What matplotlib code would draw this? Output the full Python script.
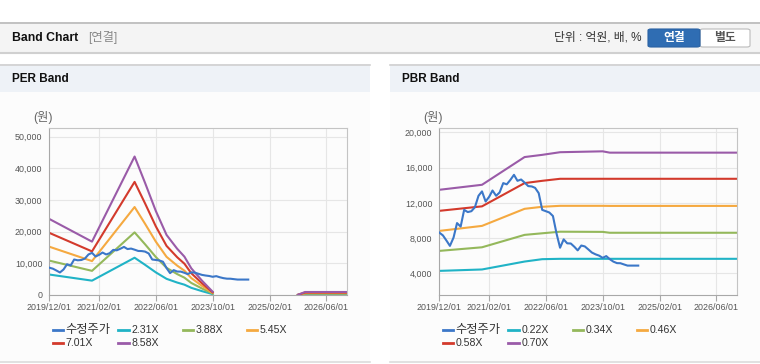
import numpy as np
import pandas as pd
import matplotlib
matplotlib.use("Agg")
import matplotlib.pyplot as plt
from matplotlib.patches import Rectangle, FancyBboxPatch
from matplotlib.lines import Line2D

plt.rcParams["font.family"] = ["Liberation Sans", "Noto Sans CJK KR"]

W, H = 760, 364

# 수정주가 (monthly)
price_dates = pd.date_range("2019-12-01", periods=57, freq="MS")
price = [8620, 8300, 7700, 7110, 8050, 9700, 9300, 11200, 10950, 11050,
         11500, 12800, 13300, 12150, 12700, 13400, 12800, 13180, 14240, 14100,
         14600, 15180, 14500, 14650, 14300, 13900, 13860, 13700, 13100, 11200,
         11050, 10900, 10500, 8500, 6900, 7850, 7400, 7380, 7000, 6600,
         7150, 7050, 6700, 6350, 6150, 6000, 5750, 5950, 5600, 5320,
         5150, 5140, 5000, 4870, 4870, 4870, 4870]

# PER band
per_dates = pd.to_datetime(["2019-12-01", "2020-12-01", "2021-12-01", "2022-03-01",
                            "2022-06-01", "2022-09-01", "2022-12-01", "2023-02-01",
                            "2023-04-01", "2023-07-01", "2023-10-01", "2024-12-01",
                            "2025-10-01", "2025-12-01", "2026-12-01"])
per_231 = [6460, 4530, 11760, 9520, 7140, 5100, 3930, 3260, 2260, 1220, 280, np.nan, 20, 255, 255]
per_388 = [10850, 7620, 19760, 15990, 11990, 8570, 6600, 5470, 3800, 2060, 470, np.nan, 35, 430, 430]
per_545 = [15240, 10700, 27760, 22450, 16840, 12040, 9270, 7680, 5340, 2890, 650, np.nan, 50, 600, 600]
per_701 = [19610, 13760, 35700, 28880, 21660, 15490, 11920, 9880, 6870, 3720, 840, np.nan, 60, 775, 775]
per_858 = [24000, 16840, 43700, 35350, 26510, 18950, 14590, 12100, 8410, 4550, 1030, np.nan, 80, 950, 950]
per_labels = ["2.31X", "3.88X", "5.45X", "7.01X", "8.58X"]

# PBR band
pbr_dates = pd.to_datetime(["2019-12-01", "2020-12-01", "2021-12-01", "2022-05-01",
                            "2022-10-01", "2023-10-01", "2023-12-01", "2026-12-01"])
pbr_022 = [4270, 4430, 5330, 5600, 5640, 5640, 5640, 5640]
pbr_034 = [6540, 6950, 8360, 8540, 8720, 8700, 8600, 8600]
pbr_046 = [8810, 9380, 11320, 11550, 11660, 11660, 11650, 11650]
pbr_058 = [11090, 11600, 14240, 14500, 14730, 14730, 14730, 14730]
pbr_070 = [13480, 14050, 17200, 17450, 17750, 17850, 17700, 17700]
pbr_labels = ["0.22X", "0.34X", "0.46X", "0.58X", "0.70X"]

xtick_labels = ["2019/12/01", "2021/02/01", "2022/06/01", "2023/10/01", "2025/02/01", "2026/06/01"]

c_price = "#3b77c8"
band_colors = ["#20b3c6", "#94b85b", "#f5a940", "#d33a2c", "#9a5ba8"]


def fx(x):
    return x / W


def fy(y):
    return 1 - y / H


def rect(fig, x0, y0, x1, y1, **kw):
    fig.add_artist(Rectangle((fx(x0), fy(y1)), fx(x1) - fx(x0), fy(y0) - fy(y1),
                             transform=fig.transFigure, zorder=-10, **kw))


def hline(fig, x0, x1, y, color, lw=1.0):
    fig.add_artist(Line2D([fx(x0), fx(x1)], [fy(y), fy(y)], transform=fig.transFigure,
                          color=color, lw=lw, zorder=-5))


fig = plt.figure(figsize=(W / 100, H / 100), dpi=100)
fig.patch.set_facecolor("white")

# 상단 헤더
rect(fig, 0, 22, 760, 52, facecolor="#f4f4f4", edgecolor="none")
hline(fig, 0, 760, 22.5, "#b8b8b8", 1.2)
hline(fig, 0, 760, 52.5, "#d0d0d0", 1.5)
fig.text(fx(12), fy(38), "Band Chart", fontsize=8.8, fontweight="bold", color="#111", va="center")
fig.text(fx(88), fy(38), "[연결]", fontsize=8.8, color="#888", va="center")
fig.text(fx(641), fy(38), "단위 : 억원, 배, %", fontsize=8.5, color="#333", va="center", ha="right")
fig.add_artist(FancyBboxPatch((fx(700), fy(47)), fx(50), fy(29) - fy(47),
                              boxstyle="round,pad=0,rounding_size=0.004", transform=fig.transFigure,
                              facecolor="white", edgecolor="#bbbbbb", lw=0.8))
fig.add_artist(FancyBboxPatch((fx(648), fy(47)), fx(52), fy(29) - fy(47),
                              boxstyle="round,pad=0,rounding_size=0.004", transform=fig.transFigure,
                              facecolor="#2f6db3", edgecolor="#2a62a3", lw=0.8))
fig.text(fx(674), fy(38), "연결", fontsize=8.5, fontweight="bold", color="white", va="center", ha="center")
fig.text(fx(725), fy(38), "별도", fontsize=8.5, fontweight="bold", color="#555", va="center", ha="center")

# 패널 배경
for px0, px1, title in [(0, 370, "PER Band"), (390, 760, "PBR Band")]:
    rect(fig, px0, 64, px1, 362, facecolor="#fcfcfc", edgecolor="none")
    rect(fig, px0, 64, px1, 92, facecolor="#eef2f7", edgecolor="none")
    hline(fig, px0, px1, 64.5, "#d0d0d0", 1.2)
    hline(fig, px0, px1, 361.5, "#dcdcdc", 1.2)
    fig.text(fx(px0 + 12), fy(79), title, fontsize=8.5, fontweight="bold", color="#111", va="center")

xticks = pd.to_datetime(xtick_labels, format="%Y/%m/%d")
xlim = (pd.Timestamp("2019-12-01"), pd.Timestamp("2026-11-28"))


def style(ax, ylim, yticks):
    ax.set_facecolor("none")
    ax.set_xlim(xlim)
    ax.set_ylim(ylim)
    ax.set_xticks(xticks)
    ax.set_xticklabels(xtick_labels)
    ax.set_yticks(yticks)
    ax.set_yticklabels([f"{v:,}" for v in yticks])
    ax.grid(True, color="#e6e6e6", lw=0.8)
    ax.set_axisbelow(True)
    for s in ax.spines.values():
        s.set_color("#c4c4c4")
        s.set_linewidth(0.8)
    ax.spines["left"].set_color("#a8a8a8")
    ax.spines["bottom"].set_color("#a8a8a8")
    ax.tick_params(axis="x", length=4, width=0.8, color="#a8a8a8", pad=2,
                   labelsize=6.4, labelcolor="#555")
    ax.tick_params(axis="y", length=0, pad=5, labelsize=6.4, labelcolor="#555")


# PER
ax1 = fig.add_axes([fx(49.3), fy(295), fx(298), fy(128) - fy(295)])
style(ax1, (0, 52700), list(range(0, 50001, 10000)))
ax1.plot(price_dates, price, color=c_price, lw=1.5, zorder=6)
for vals, col in zip([per_231, per_388, per_545, per_701, per_858], band_colors):
    ax1.plot(per_dates, vals, color=col, lw=1.5)
fig.text(fx(33), fy(118), "(원)", fontsize=8.8, color="#666", va="center")

# PBR
ax2 = fig.add_axes([fx(439.3), fy(295), fx(298), fy(128) - fy(295)])
style(ax2, (1530, 20500), list(range(4000, 20001, 4000)))
ax2.plot(price_dates, price, color=c_price, lw=1.5, zorder=6)
for vals, col in zip([pbr_022, pbr_034, pbr_046, pbr_058, pbr_070], band_colors):
    ax2.plot(pbr_dates, vals, color=col, lw=1.5)
fig.text(fx(423), fy(118), "(원)", fontsize=8.8, color="#666", va="center")

# 범례
slots = [(52.7, 330), (118.3, 330), (182.7, 330), (246.7, 330), (52.7, 343.3), (118.3, 343.3)]
for off, labels in [(0, per_labels), (390, pbr_labels)]:
    names = ["수정주가"] + labels
    cols = [c_price] + band_colors
    for i, ((lx, ly), name, col) in enumerate(zip(slots, names, cols)):
        fig.add_artist(Line2D([fx(lx + off), fx(lx + off + 10.5)], [fy(ly), fy(ly)],
                              transform=fig.transFigure, color=col, lw=2))
        fig.text(fx(lx + off + 13), fy(ly), name, fontsize=8.8 if i == 0 else 7.6,
                 color="#333", va="center")

fig.savefig("out.png", dpi=100)
